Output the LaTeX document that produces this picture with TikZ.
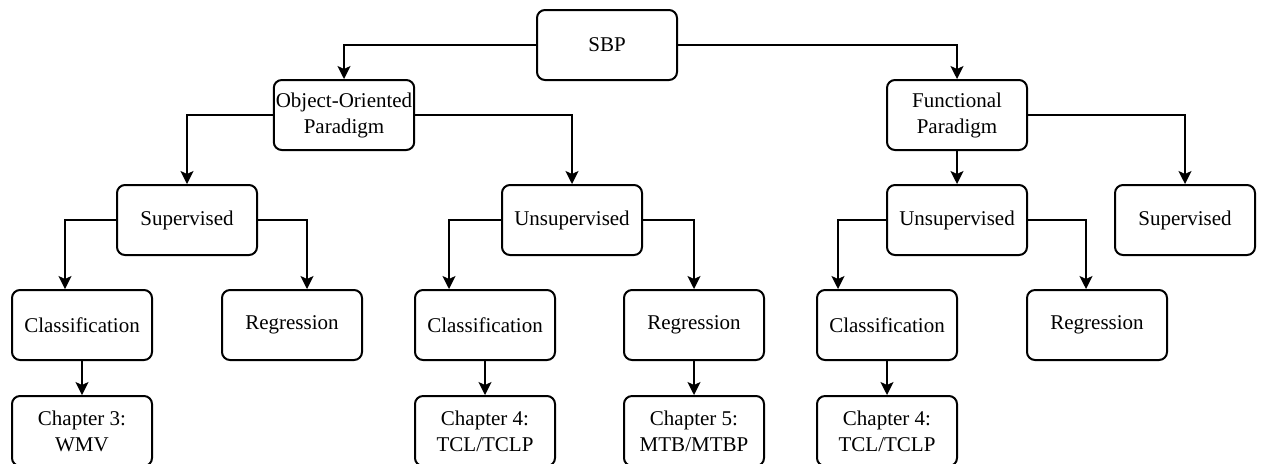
\documentclass[tikz,border=0pt]{standalone}
\usepackage{fontspec}
\setmainfont{Liberation Serif}
\usetikzlibrary{arrows.meta}
\tikzset{
  box/.style={draw,line width=1pt,rounded corners=4pt,minimum width=70pt,
    minimum height=35pt,align=center,font=\fontsize{10.5}{13}\selectfont,inner sep=1pt},
  arr/.style={line width=0.85pt,-{Stealth[length=6.5pt,width=6.5pt,inset=1.5pt]}}
}
\begin{document}
\begin{tikzpicture}[x=0.5pt,y=-0.5pt]
   \useasboundingbox (0,0) rectangle (1262,463);
   \node[box] (sbp) at (607,45) {SBP};
   \node[box] (oop) at (344,115) {Object-Oriented\\Paradigm};
   \node[box] (fp) at (957,115) {Functional\\Paradigm};
   \node[box] (sup1) at (187,220) {Supervised};
   \node[box] (uns1) at (572,220) {Unsupervised};
   \node[box] (uns2) at (957,220) {Unsupervised};
   \node[box] (sup2) at (1185,220) {Supervised};
   \node[box] (cls1) at (82,325) {Classification};
   \node[box] (reg1) at (292,325) {Regression};
   \node[box] (cls2) at (485,325) {Classification};
   \node[box] (reg2) at (694,325) {Regression};
   \node[box] (cls3) at (887,325) {Classification};
   \node[box] (reg3) at (1097,325) {Regression};
   \node[box] (ch3) at (82,431) {Chapter 3:\\WMV};
   \node[box] (ch4) at (485,431) {Chapter 4:\\TCL/TCLP};
   \node[box] (ch5) at (694,431) {Chapter 5:\\MTB/MTBP};
   \node[box] (ch4b) at (887,431) {Chapter 4:\\TCL/TCLP};
   \draw[arr] (sbp.west) -| (oop.north);
   \draw[arr] (sbp.east) -| (fp.north);
   \draw[arr] (oop.west) -| (sup1.north);
   \draw[arr] (oop.east) -| (uns1.north);
   \draw[arr] (fp) -- (uns2);
   \draw[arr] (fp.east) -| (sup2.north);
   \draw[arr] (sup1.west) -| ([xshift=-8.5pt]cls1.north);
   \draw[arr] (sup1.east) -| ([xshift=7.5pt]reg1.north);
   \draw[arr] (uns1.west) -| ([xshift=-18pt]cls2.north);
   \draw[arr] (uns1.east) -| (reg2.north);
   \draw[arr] (uns2.west) -| ([xshift=-24.5pt]cls3.north);
   \draw[arr] (uns2.east) -| ([xshift=-5.5pt]reg3.north);
   \draw[arr] (cls1) -- (ch3);
   \draw[arr] (cls2) -- (ch4);
   \draw[arr] (reg2) -- (ch5);
   \draw[arr] (cls3) -- (ch4b);
\end{tikzpicture}
\end{document}
